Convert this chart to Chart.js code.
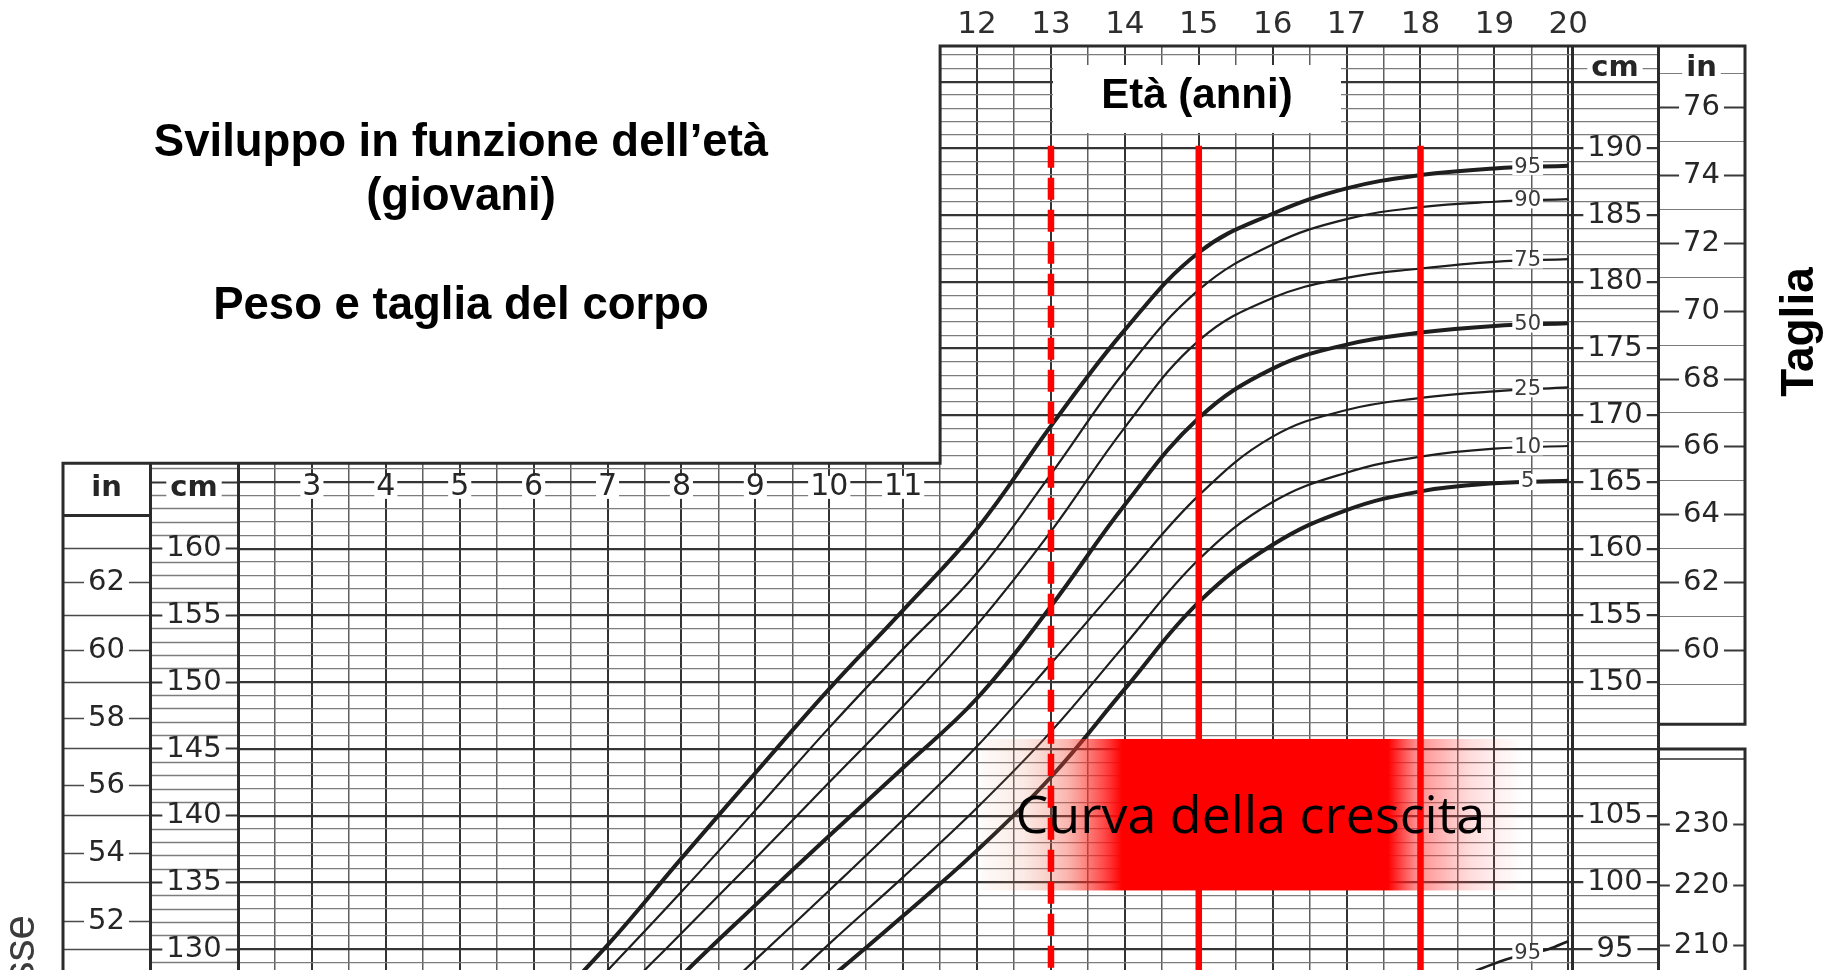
<!DOCTYPE html>
<html>
<head>
<meta charset="utf-8">
<title>Sviluppo in funzione dell'età</title>
<script src="https://cdn.jsdelivr.net/npm/chart.js@4.4.1/dist/chart.umd.min.js"></script>
<style>
  html, body { margin: 0; padding: 0; background: #fff; }
  #growthChart { display: block; }
</style>
</head>
<body>
<canvas id="growthChart" width="1831" height="970" style="width:1831px;height:970px"></canvas>
<script>
// Statura (cm) per età
const ages = [6, 7, 8, 9, 10, 11, 12, 13, 14, 15, 16, 17, 18, 19, 20];
const p95 = [124.5, 130.3, 136.8, 143.2, 149.5, 155.4, 161.5, 169.2, 176.4, 182.2, 185.1, 187.0, 188.0, 188.5, 188.7];
const p90 = [122.6, 128.4, 134.3, 140.4, 146.6, 152.5, 158.2, 165.6, 173.3, 179.4, 182.8, 184.7, 185.6, 186.0, 186.2];
const p75 = [119.8, 125.6, 131.2, 136.8, 142.5, 148.2, 154.3, 161.3, 169.1, 175.6, 178.8, 180.3, 181.0, 181.5, 181.7];
const p50 = [116.5, 122.3, 128.0, 133.3, 138.5, 143.6, 148.8, 155.7, 163.3, 169.8, 173.5, 175.3, 176.2, 176.7, 176.9];
const p25 = [113.2, 118.8, 124.0, 129.2, 134.4, 139.7, 145.2, 151.4, 157.8, 164.0, 168.4, 170.4, 171.3, 171.8, 172.1];
const p10 = [110.0, 115.4, 120.2, 125.2, 130.4, 135.4, 140.6, 146.3, 152.8, 159.2, 163.5, 165.7, 166.9, 167.5, 167.7];
const p5  = [108.3, 113.6, 118.5, 123.4, 127.8, 132.5, 137.4, 142.9, 149.5, 156.0, 160.3, 162.9, 164.3, 164.9, 165.1];

// Peso (kg), 95° percentile, solo il tratto visibile in basso a destra
const weightAges = [18.75, 19.2, 19.73, 20];
const weightP95 = [93.4, 94.3, 95.0, 95.6];

// Linee rosse e riquadro "Curva della crescita"
const markerAges = [13, 15, 18];
const markerTopCm = 190.2;
const boxAges = [12.05, 19.4];
const boxCm = [134.4, 145.75];

// Etichette degli assi
const topAgeTicks = [12, 13, 14, 15, 16, 17, 18, 19, 20];
const innerAgeTicks = [3, 4, 5, 6, 7, 8, 9, 10, 11];
const cmLeftTicks = [130, 135, 140, 145, 150, 155, 160];
const inLeftTicks = [52, 54, 56, 58, 60, 62];
const cmRightTicks = [150, 155, 160, 165, 170, 175, 180, 185, 190];
const inRightTicks = [60, 62, 64, 66, 68, 70, 72, 74, 76];
const kgTicks = [95, 100, 105];
const lbTicks = [210, 220, 230];

// Limiti del foglio
const AGE_MIN = 2, AGE_MAX = 20.05;
const CM_MIN = 128.44, CM_MAX = 197.67;
const CM_PER_IN = 2.54;
const KG_PER_LB = 0.45359237;
const KG_OFFSET = 35;          // 105 kg sta sulla riga dei 140 cm
const UPPER_AGE_START = 11.5;  // gradino del riquadro superiore
const LOWER_TOP_CM = 166.4;
const IN_BOX_END_CM = 146.85;
const LB_BOX_START_CM = 145.0;

const COL_IN_L = 87, COL_CM_L = 88, COL_CM_R = 86, COL_IN_R = 87;
const NUM_FAMILY = "'DejaVu Sans', sans-serif";
const NUM_SIZE = 29;

const measureCtx = document.createElement('canvas').getContext('2d');
function textWidth(text, font) {
    measureCtx.font = font;
    return measureCtx.measureText(text).width;
}
const numFont = NUM_SIZE + 'px ' + NUM_FAMILY;
// padding negativo per centrare le etichette nella colonna
function centerPad(colW, widest) {
    return -colW / 2 - widest / 2;
}

const halfYears = [];
for (let a = 2; a <= 20; a += 0.5) halfYears.push(a);
const cmLines = [];
for (let c = 129; c <= 197; c++) cmLines.push(c);

function columnTicks(colW, widest) {
    return {
        autoSkip: false,
        font: { family: NUM_FAMILY, size: NUM_SIZE, lineHeight: 0.75 },
        color: '#262626',
        crossAlign: 'center',
        padding: centerPad(colW, widest),
        showLabelBackdrop: ctx => ctx.tick && ctx.tick.label !== '',
        backdropColor: '#ffffff',
        backdropPadding: { top: 0, bottom: 0, left: 4, right: 4 }
    };
}

const majorCm = v => Math.abs(v % 5) < 0.01;
const GRID_MAJOR = '#353535';
const GRID_MINOR = '#7c7c7c';

const percentiles = [
    { name: '95', data: p95, bold: true },
    { name: '90', data: p90, bold: false },
    { name: '75', data: p75, bold: false },
    { name: '50', data: p50, bold: true },
    { name: '25', data: p25, bold: false },
    { name: '10', data: p10, bold: false },
    { name: '5', data: p5, bold: true }
];

const datasets = percentiles.map(p => ({
    label: p.name,
    data: ages.map((a, i) => ({ x: a, y: p.data[i] })),
    borderColor: '#1e1e1e',
    borderWidth: p.bold ? 4 : 2.2,
    pointRadius: 0,
    tension: 0.4,
    fill: false,
    yAxisID: 'y',
    order: 2
}));

datasets.push({
    label: 'peso 95',
    data: weightAges.map((a, i) => ({ x: a, y: weightP95[i] })),
    borderColor: '#1e1e1e',
    borderWidth: 2.6,
    pointRadius: 0,
    tension: 0.3,
    yAxisID: 'yKg',
    order: 2
});

markerAges.forEach((a, i) => {
    datasets.push({
        label: 'età ' + a,
        isMarker: true,
        data: [{ x: a, y: markerTopCm }, { x: a, y: CM_MIN - 5 }],
        borderColor: '#ff0000',
        borderWidth: 6.5,
        borderDash: i === 0 ? [22, 10] : [],
        pointRadius: 0,
        yAxisID: 'y',
        order: 1
    });
});

function drawTextBox(ctx, text, cx, cy, font, color, padX, h) {
    ctx.font = font;
    const w = ctx.measureText(text).width;
    ctx.fillStyle = '#ffffff';
    ctx.fillRect(cx - w / 2 - padX, cy - h / 2, w + 2 * padX, h);
    ctx.fillStyle = color;
    ctx.textAlign = 'center';
    ctx.textBaseline = 'middle';
    ctx.fillText(text, cx, cy);
}

// Riquadro sfumato dietro "Curva della crescita"
function drawGrowthBox(chart) {
    const { ctx, scales: { x, y } } = chart;
    const x0 = x.getPixelForValue(boxAges[0]);
    const x1 = x.getPixelForValue(boxAges[1]);
    const y0 = y.getPixelForValue(boxCm[1]);
    const y1 = y.getPixelForValue(boxCm[0]);
    const g = ctx.createLinearGradient(x0, 0, x1, 0);
    g.addColorStop(0, 'rgba(225,150,100,0.04)');
    g.addColorStop(0.08, 'rgba(230,120,90,0.16)');
    g.addColorStop(0.16, 'rgba(245,70,55,0.4)');
    g.addColorStop(0.23, 'rgba(255,20,20,0.8)');
    g.addColorStop(0.26, 'rgba(255,0,0,1)');
    g.addColorStop(0.75, 'rgba(255,0,0,1)');
    g.addColorStop(0.8, 'rgba(255,40,40,0.55)');
    g.addColorStop(0.9, 'rgba(255,80,80,0.2)');
    g.addColorStop(1, 'rgba(255,120,120,0)');
    ctx.save();
    ctx.fillStyle = g;
    ctx.fillRect(x0, y0, x1 - x0, y1 - y0);
    ctx.restore();
}

const chartDecor = {
    id: 'chartDecor',
    beforeDraw(chart) {
        chart.$boxDone = false;
    },
    beforeDatasetsDraw(chart) {
        const { ctx, chartArea, scales } = chart;
        const { x, y } = scales;
        const stepX = x.getPixelForValue(UPPER_AGE_START);
        const stepY = y.getPixelForValue(LOWER_TOP_CM);
        const outerL = scales.yLin.left;
        const outerR = scales.yRin.right;
        const inLeft = scales.yRin.left;
        const top = chartArea.top;
        const gapTop = y.getPixelForValue(IN_BOX_END_CM);
        const gapBot = y.getPixelForValue(LB_BOX_START_CM);

        ctx.save();
        ctx.fillStyle = '#ffffff';
        ctx.fillRect(0, 0, stepX, stepY);
        ctx.fillRect(inLeft + 2, gapTop, outerR - inLeft, gapBot - gapTop);

        // bordi del foglio
        ctx.strokeStyle = '#2b2b2b';
        ctx.lineWidth = 3;
        ctx.beginPath();
        ctx.moveTo(outerL, chart.height);
        ctx.lineTo(outerL, stepY);
        ctx.lineTo(stepX, stepY);
        ctx.lineTo(stepX, top);
        ctx.lineTo(outerR, top);
        ctx.lineTo(outerR, gapTop);
        ctx.lineTo(inLeft, gapTop);
        ctx.moveTo(inLeft, gapBot);
        ctx.lineTo(outerR, gapBot);
        ctx.lineTo(outerR, chart.height);
        ctx.moveTo(outerL, y.getPixelForValue(162.5));
        ctx.lineTo(scales.yLin.right, y.getPixelForValue(162.5));
        ctx.stroke();
        ctx.lineWidth = 1.5;
        ctx.beginPath();
        ctx.moveTo(inLeft, gapBot + 10);
        ctx.lineTo(outerR, gapBot + 10);
        ctx.stroke();

        // età 3-11 dentro la griglia
        const rowY = y.getPixelForValue(164.6);
        const rowFont = '30px ' + NUM_FAMILY;
        innerAgeTicks.forEach(a => {
            drawTextBox(ctx, String(a), x.getPixelForValue(a), rowY, rowFont, '#262626', 2, 23);
        });

        // intestazioni delle colonne
        const headFont = 'bold ' + NUM_SIZE + 'px ' + NUM_FAMILY;
        const headLow = y.getPixelForValue(164.55);
        const headHigh = y.getPixelForValue(196.0);
        drawTextBox(ctx, 'in', (scales.yLin.left + scales.yLin.right) / 2, headLow, headFont, '#262626', 4, 24);
        drawTextBox(ctx, 'cm', (scales.yL.left + scales.yL.right) / 2, headLow, headFont, '#262626', 4, 24);
        drawTextBox(ctx, 'cm', (scales.y.left + scales.y.right) / 2, headHigh, headFont, '#262626', 4, 24);
        drawTextBox(ctx, 'in', (scales.yRin.left + scales.yRin.right) / 2, headHigh, headFont, '#262626', 4, 24);
        ctx.restore();
    },
    beforeDatasetDraw(chart, args) {
        const ds = chart.data.datasets[args.index];
        if (ds.isMarker && !chart.$boxDone) {
            chart.$boxDone = true;
            drawGrowthBox(chart);
        }
    },
    afterDatasetsDraw(chart) {
        const { ctx, scales: { x, y, yKg } } = chart;
        ctx.save();
        const lblFont = '21px ' + NUM_FAMILY;
        const lx = x.getPixelForValue(19.45);
        percentiles.forEach(p => {
            const v = (p.data[13] + p.data[14]) / 2;
            drawTextBox(ctx, p.name, lx, y.getPixelForValue(v), lblFont, '#3a3a3a', 2, 16);
        });
        drawTextBox(ctx, '95', x.getPixelForValue(19.45), yKg.getPixelForValue(94.7), lblFont, '#3a3a3a', 2, 16);
        ctx.restore();
    },
    afterDraw(chart) {
        const { ctx, scales: { x, y } } = chart;
        ctx.save();
        ctx.fillStyle = '#000000';
        ctx.textAlign = 'center';
        ctx.textBaseline = 'middle';
        ctx.font = "bold 45.5px 'Liberation Sans', Arial, sans-serif";
        ctx.fillText('Sviluppo in funzione dell\u2019età', 461, 143);
        ctx.fillText('(giovani)', 461, 197);
        ctx.fillText('Peso e taglia del corpo', 461, 306);

        // riquadro "Età (anni)"
        ctx.fillStyle = '#ffffff';
        ctx.fillRect(1053, 65, 288, 68);
        ctx.fillStyle = '#000000';
        ctx.font = "bold 42px 'Liberation Sans', Arial, sans-serif";
        ctx.fillText('Età (anni)', 1197, 96);

        // titolo verticale a destra
        ctx.save();
        ctx.translate(1800, 332);
        ctx.rotate(-Math.PI / 2);
        ctx.font = "bold 46px 'Liberation Sans', Arial, sans-serif";
        ctx.fillText('Taglia', 0, 0);
        ctx.restore();

        // titolo verticale a sinistra, tagliato dal bordo
        ctx.save();
        ctx.translate(22, 915);
        ctx.rotate(-Math.PI / 2);
        ctx.textAlign = 'right';
        ctx.fillStyle = '#3c3c3c';
        ctx.font = "44px 'Liberation Sans', Arial, sans-serif";
        ctx.fillText('Masse', 0, 0);
        ctx.restore();

        // testo sul riquadro rosso
        ctx.fillStyle = '#000000';
        ctx.font = "52px 'Open Sans', sans-serif";
        ctx.fillText('Curva della crescita',
            x.getPixelForValue((boxAges[0] + boxAges[1]) / 2) - 2,
            y.getPixelForValue((boxCm[0] + boxCm[1]) / 2) + 3);
        ctx.restore();
    }
};

const widest3 = textWidth('190', numFont);
const widest2 = textWidth('62', numFont);

const ctx = document.getElementById('growthChart').getContext('2d');
new Chart(ctx, {
    type: 'line',
    data: { datasets: datasets },
    options: {
        responsive: false,
        devicePixelRatio: 1,
        animation: false,
        events: [],
        layout: { padding: { left: 63, right: 86, top: 0, bottom: 0 } },
        plugins: {
            legend: { display: false },
            tooltip: { enabled: false }
        },
        scales: {
            x: {
                type: 'linear',
                position: 'top',
                min: AGE_MIN,
                max: AGE_MAX,
                afterBuildTicks: s => { s.ticks = halfYears.map(v => ({ value: v })); },
                afterFit: s => { s.height = 46; },
                ticks: {
                    autoSkip: false,
                    maxRotation: 0,
                    padding: 2,
                    font: { family: NUM_FAMILY, size: 31 },
                    color: '#2e2e2e',
                    callback: v => topAgeTicks.includes(v) ? String(v) : ''
                },
                grid: {
                    drawTicks: false,
                    color: c => Number.isInteger(c.tick.value) ? '#333333' : '#5e5e5e',
                    lineWidth: c => Number.isInteger(c.tick.value) ? 2 : 1.5
                },
                border: { display: false }
            },
            y: {
                type: 'linear',
                axis: 'y',
                position: 'right',
                weight: 0,
                min: CM_MIN,
                max: CM_MAX,
                afterBuildTicks: s => { s.ticks = cmLines.map(v => ({ value: v })); },
                afterFit: s => { s.width = COL_CM_R; },
                ticks: Object.assign(columnTicks(COL_CM_R, widest3), {
                    callback: v => {
                        if (cmRightTicks.includes(v)) return String(v);
                        if (kgTicks.includes(v - KG_OFFSET)) return String(v - KG_OFFSET);
                        return '';
                    }
                }),
                grid: {
                    tickLength: COL_CM_R,
                    color: c => majorCm(c.tick.value) ? GRID_MAJOR : GRID_MINOR,
                    lineWidth: c => majorCm(c.tick.value) ? 2.2 : 1.3,
                    tickColor: c => majorCm(c.tick.value) ? GRID_MAJOR : GRID_MINOR,
                    tickWidth: c => majorCm(c.tick.value) ? 2.2 : 1.3
                },
                border: { display: true, color: '#2b2b2b', width: 3 }
            },
            yRin: {
                type: 'linear',
                axis: 'y',
                position: 'right',
                weight: 1,
                min: CM_MIN,
                max: CM_MAX,
                afterBuildTicks: s => {
                    const t = [];
                    for (let i = 59; i <= 77; i++) {
                        t.push({ value: i * CM_PER_IN, lbl: inRightTicks.includes(i) ? String(i) : '' });
                    }
                    lbTicks.forEach(lb => t.push({ value: lb * KG_PER_LB + KG_OFFSET, lbl: String(lb) }));
                    t.sort((a, b) => a.value - b.value);
                    s.ticks = t;
                },
                afterFit: s => { s.width = COL_IN_R; },
                ticks: Object.assign(columnTicks(COL_IN_R, widest3), {
                    callback: (v, i, t) => t[i].lbl
                }),
                grid: {
                    drawOnChartArea: false,
                    tickLength: COL_IN_R,
                    tickColor: c => c.tick.label !== '' ? '#3a3a3a' : GRID_MINOR,
                    tickWidth: c => c.tick.label !== '' ? 1.8 : 1.2
                },
                border: { display: true, color: '#2b2b2b', width: 3 }
            },
            yL: {
                type: 'linear',
                axis: 'y',
                position: 'left',
                weight: 0,
                min: CM_MIN,
                max: CM_MAX,
                afterBuildTicks: s => { s.ticks = cmLines.filter(v => v <= 166).map(v => ({ value: v })); },
                afterFit: s => { s.width = COL_CM_L; },
                ticks: Object.assign(columnTicks(COL_CM_L, widest3), {
                    callback: v => cmLeftTicks.includes(v) ? String(v) : ''
                }),
                grid: {
                    drawOnChartArea: false,
                    tickLength: COL_CM_L,
                    tickColor: c => majorCm(c.tick.value) ? GRID_MAJOR : GRID_MINOR,
                    tickWidth: c => majorCm(c.tick.value) ? 2.2 : 1.3
                },
                border: { display: true, color: '#2b2b2b', width: 3 }
            },
            yLin: {
                type: 'linear',
                axis: 'y',
                position: 'left',
                weight: 1,
                min: CM_MIN,
                max: CM_MAX,
                afterBuildTicks: s => {
                    const t = cmLeftTicks.map(v => ({ value: v, lbl: '' }));
                    inLeftTicks.forEach(i => t.push({ value: i * CM_PER_IN, lbl: String(i) }));
                    t.sort((a, b) => a.value - b.value);
                    s.ticks = t;
                },
                afterFit: s => { s.width = COL_IN_L; },
                ticks: Object.assign(columnTicks(COL_IN_L, widest2), {
                    callback: (v, i, t) => t[i].lbl
                }),
                grid: {
                    drawOnChartArea: false,
                    tickLength: COL_IN_L,
                    tickColor: '#4a4a4a',
                    tickWidth: 1.5
                },
                border: { display: true, color: '#2b2b2b', width: 3 }
            },
            yKg: {
                type: 'linear',
                axis: 'y',
                display: false,
                min: CM_MIN - KG_OFFSET,
                max: CM_MAX - KG_OFFSET
            }
        }
    },
    plugins: [chartDecor]
});
</script>
</body>
</html>
